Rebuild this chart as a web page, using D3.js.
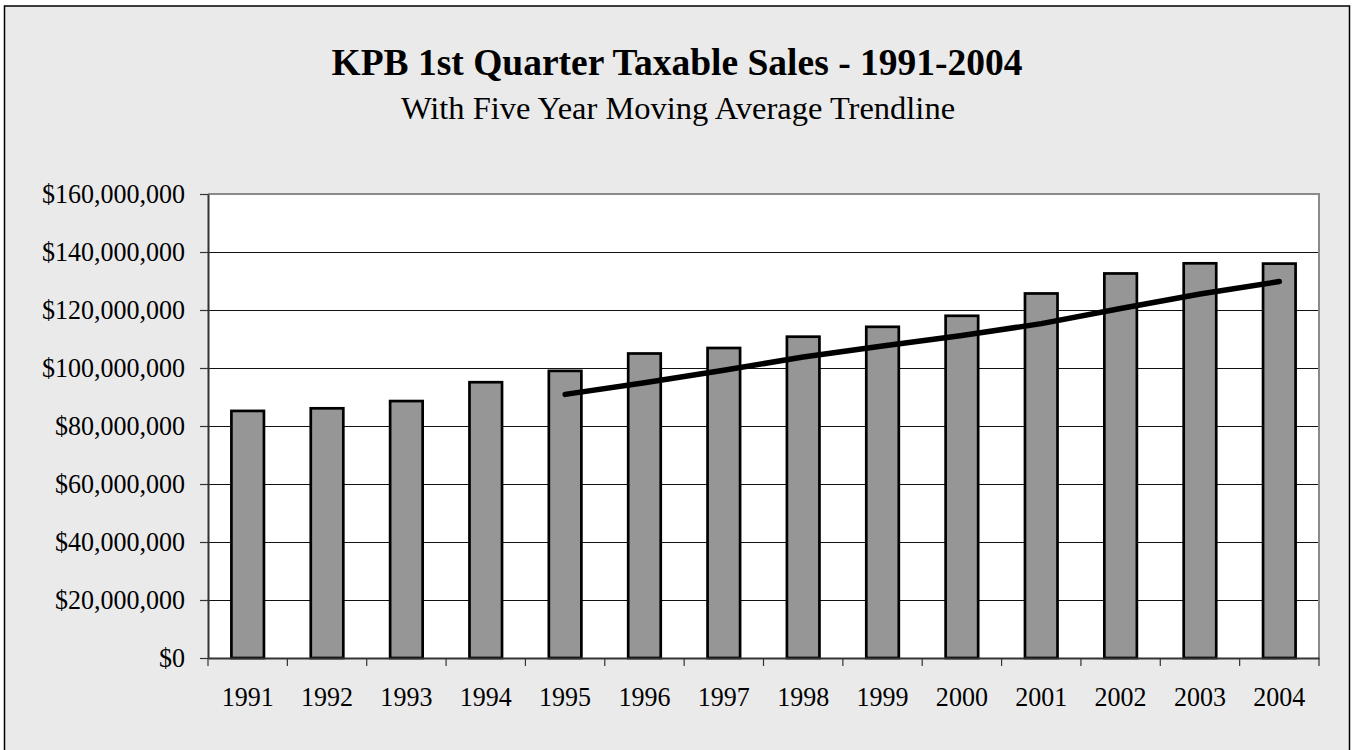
<!DOCTYPE html>
<html>
<head>
<meta charset="utf-8">
<script src="https://cdn.jsdelivr.net/npm/d3@7"></script>
<style>
  html, body { margin: 0; padding: 0; background: #ffffff; }
  svg { display: block; }
  text { font-family: "Liberation Serif", "Times New Roman", serif; fill: #000; }
</style>
</head>
<body>
<svg id="chart" width="1352" height="750"></svg>
<script>
// ---- data ----
const years = ["1991","1992","1993","1994","1995","1996","1997","1998","1999","2000","2001","2002","2003","2004"];
const sales = [85200000, 86100000, 88600000, 95100000, 99000000, 105000000, 106900000, 110800000, 114200000, 118000000, 125700000, 132600000, 136100000, 136000000];
const trendYears = ["1995","1996","1997","1998","1999","2000","2001","2002","2003","2004"];
const trendValues = [90900000, 94900000, 99200000, 103800000, 107600000, 111200000, 115300000, 120500000, 125500000, 129800000];
const yTicks = [0, 20000000, 40000000, 60000000, 80000000, 100000000, 120000000, 140000000, 160000000];
const titleText = "KPB 1st Quarter Taxable Sales - 1991-2004";
const subtitleText = "With Five Year Moving Average Trendline";

// ---- layout ----
const svg = d3.select("#chart");
const plot = { left: 208, right: 1319, top: 194, bottom: 658 };

// outer frame
svg.append("rect")
  .attr("x", 4.5).attr("y", 6).attr("width", 1345).attr("height", 770)
  .attr("fill", "#eaeaea").attr("stroke", "#000").attr("stroke-width", 1.5);

// titles
svg.append("text").attr("x", 677).attr("y", 75)
  .attr("text-anchor", "middle").attr("font-size", 37.5).attr("font-weight", "bold")
  .text(titleText);
svg.append("text").attr("x", 678).attr("y", 119)
  .attr("text-anchor", "middle").attr("font-size", 32.5)
  .text(subtitleText);

// scales
const x = d3.scaleBand().domain(years).range([plot.left, plot.right]).padding(0);
const y = d3.scaleLinear().domain([0, 160000000]).range([plot.bottom, plot.top]);

// plot background
svg.append("rect")
  .attr("x", plot.left).attr("y", plot.top)
  .attr("width", plot.right - plot.left).attr("height", plot.bottom - plot.top)
  .attr("fill", "#ffffff");

// gridlines
svg.append("g").selectAll("line")
  .data(yTicks.filter(d => d > 0 && d < 160000000))
  .join("line")
  .attr("x1", plot.left).attr("x2", plot.right)
  .attr("y1", d => Math.round(y(d)) + 0.5).attr("y2", d => Math.round(y(d)) + 0.5)
  .attr("stroke", "#111").attr("stroke-width", 1);

// plot border top & right (gray)
svg.append("path")
  .attr("d", `M${plot.left},${plot.top}H${plot.right}V${plot.bottom}`)
  .attr("fill", "none").attr("stroke", "#8a8a8a").attr("stroke-width", 2);

// bars
const barW = x.bandwidth() * 0.41;
svg.append("g").selectAll("rect")
  .data(years.map((yr, i) => ({ yr, v: sales[i] })))
  .join("rect")
  .attr("x", d => x(d.yr) + (x.bandwidth() - barW) / 2)
  .attr("y", d => y(d.v))
  .attr("width", barW)
  .attr("height", d => y(0) - y(d.v))
  .attr("fill", "#969696").attr("stroke", "#000").attr("stroke-width", 2.7);

// y axis
const fmt = d => "$" + d3.format(",")(d);
const sx = 0.93;
const yAxis = svg.append("g").attr("transform", `translate(${plot.left},0)`)
  .call(d3.axisLeft(y).tickValues(yTicks).tickFormat(fmt).tickSize(8).tickSizeOuter(0));
yAxis.select(".domain").attr("stroke", "#333").attr("stroke-width", 2);
yAxis.selectAll(".tick line").attr("stroke", "#333").attr("stroke-width", 1.2);
yAxis.selectAll(".tick text")
  .attr("font-size", 28).attr("font-family", "Liberation Serif, serif")
  .attr("x", -23 / sx).attr("dy", "0.32em")
  .attr("transform", `scale(${sx},1)`);

// x axis
const xAxis = svg.append("g").attr("transform", `translate(0,${plot.bottom})`)
  .call(d3.axisBottom(x).tickSize(0).tickSizeOuter(0));
xAxis.select(".domain").attr("stroke", "#333").attr("stroke-width", 2);
xAxis.selectAll(".tick text")
  .attr("font-size", 28).attr("font-family", "Liberation Serif, serif")
  .attr("x", 0).attr("y", 48).attr("dy", 0)
  .attr("transform", `scale(${sx},1)`);
// boundary ticks between categories
const bounds = years.map(yr => x(yr)).concat([x(years[years.length - 1]) + x.bandwidth()]);
xAxis.append("g").selectAll("line")
  .data(bounds).join("line")
  .attr("x1", d => d).attr("x2", d => d)
  .attr("y1", 0).attr("y2", 8)
  .attr("stroke", "#333").attr("stroke-width", 1.2);

// trendline
const line = d3.line()
  .x((d, i) => x(trendYears[i]) + x.bandwidth() / 2)
  .y(d => y(d));
svg.append("path")
  .datum(trendValues)
  .attr("d", line)
  .attr("fill", "none").attr("stroke", "#000").attr("stroke-width", 5.5)
  .attr("stroke-linecap", "round").attr("stroke-linejoin", "round");
</script>
</body>
</html>
